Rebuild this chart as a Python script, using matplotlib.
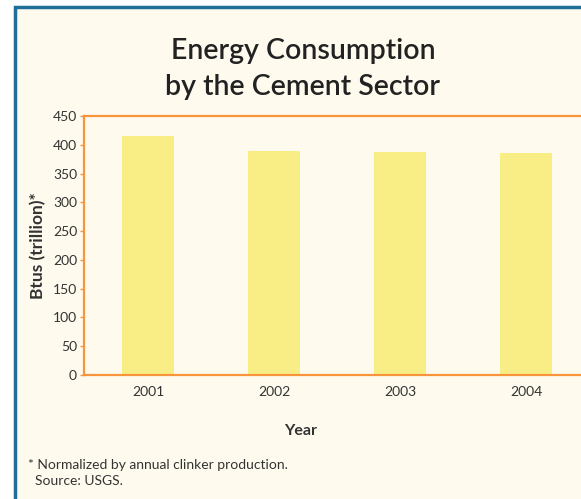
import matplotlib.pyplot as plt
import matplotlib.patches as mpatches

years = ["2001", "2002", "2003", "2004"]
btus = [415, 390, 387, 385]
yticks = [0, 50, 100, 150, 200, 250, 300, 350, 400, 450]

bg = "#FEFBEE"
bar_color = "#F9ED85"
axis_color = "#F7953B"
border_color = "#1F6E99"
text_color = "#333333"

plt.rcParams['font.family'] = ['Lato', 'DejaVu Sans']

W, H = 581, 499
fig = plt.figure(figsize=(W / 100, H / 100), dpi=100)
fig.patch.set_facecolor("white")

# framed panel (cropped at right and bottom)
fig.patches.append(mpatches.Rectangle((15 / W, -0.05), 1.1, 1 - 6.5 / H + 0.05,
                                      transform=fig.transFigure, facecolor=bg,
                                      edgecolor=border_color, linewidth=2.5, zorder=-5))

ax = fig.add_axes([84 / W, 1 - 375 / H, (589 - 84) / W, (375 - 116) / H])
ax.set_zorder(2)
ax.set_facecolor(bg)
x = range(len(years))
ax.bar(x, btus, width=0.405, color=bar_color, zorder=2)
ax.set_xlim(-0.508, 3.5)
ax.set_ylim(0, 450)
ax.set_yticks(yticks)
ax.set_xticks(list(x))
ax.set_xticklabels(years)
for s in ax.spines.values():
    s.set_color(axis_color)
    s.set_linewidth(1.6)
ax.tick_params(axis='y', colors=axis_color, labelcolor=text_color, labelsize=10,
               length=3, width=1, pad=2)
ax.tick_params(axis='x', length=0, labelcolor=text_color, labelsize=10, pad=8)

ax.set_ylabel("Btus (trillion)*", fontsize=12.5, fontweight='bold', color=text_color, labelpad=5)

fig.text(303 / W, 1 - 69 / H, "Energy Consumption\nby the Cement Sector", ha='center', va='center',
         fontsize=20.5, fontweight='semibold', color="#222222", linespacing=1.45)
fig.text(301 / W, 1 - 431 / H, "Year", ha='center', va='center', fontsize=11.5,
         fontweight='bold', color=text_color)
fig.text(28 / W, 1 - 465 / H, "* Normalized by annual clinker production.", ha='left', va='center',
         fontsize=10, color=text_color)
fig.text(35 / W, 1 - 481 / H, "Source: USGS.", ha='left', va='center',
         fontsize=10, color=text_color)

plt.savefig("out.png", dpi=100)
